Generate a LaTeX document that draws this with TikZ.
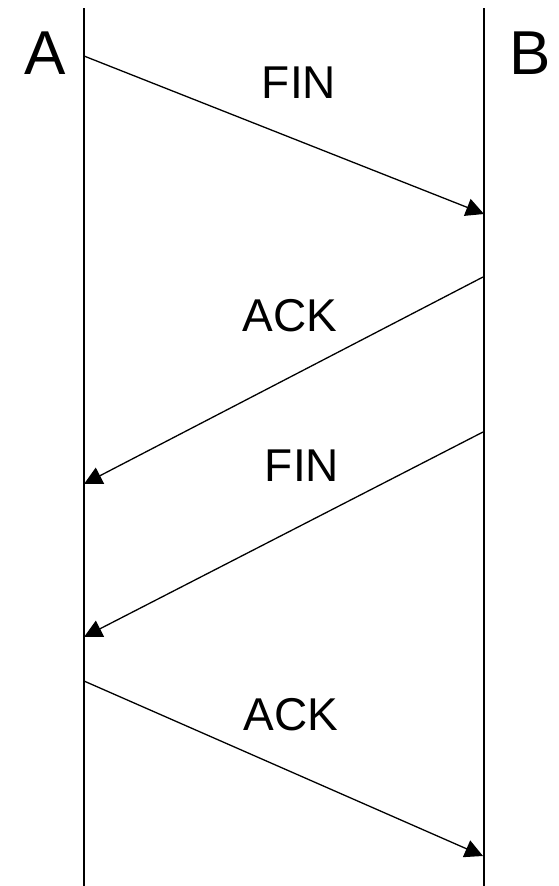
\documentclass[tikz,border=0pt]{standalone}
\usepackage{fontspec}
\setmainfont{Liberation Sans}
\usetikzlibrary{arrows.meta}
\tikzset{
  lifeline/.style={line width=1.3pt},
  msg/.style={line width=1.3pt,-{Triangle[length=18pt,width=18pt]}},
  endname/.style={font=\fontsize{62}{70}\selectfont,inner sep=0pt},
  msglabel/.style={font=\fontsize{46}{52}\selectfont,inner sep=0pt}
}
\begin{document}
\begin{tikzpicture}[x=1pt,y=-1pt]
\useasboundingbox (0,0) rectangle (558,886);
% lifelines
\coordinate (atop) at (84,8);
\coordinate (abot) at (84,886);
\coordinate (btop) at (484,8);
\coordinate (bbot) at (484,886);
\draw[lifeline] (atop) -- (abot);
\draw[lifeline] (btop) -- (bbot);
\node[endname] (la) at (45,53) {A};
\node[endname] (lb) at (530,53) {B};
% message end points
\coordinate (s1) at (84,56);
\coordinate (e1) at (484,214);
\coordinate (s2) at (483,277);
\coordinate (e2) at (84,484);
\coordinate (s3) at (483,432);
\coordinate (e3) at (84,637);
\coordinate (s4) at (84,681);
\coordinate (e4) at (483,856);
\draw[msg] (s1) -- (e1);
\draw[msg] (s2) -- (e2);
\draw[msg] (s3) -- (e3);
\draw[msg] (s4) -- (e4);
\node[msglabel] (f1) at (299,83) {FIN};
\node[msglabel] (k1) at (290,316) {ACK};
\node[msglabel] (f2) at (302,466) {FIN};
\node[msglabel] (k2) at (291,715) {ACK};
\end{tikzpicture}
\end{document}
